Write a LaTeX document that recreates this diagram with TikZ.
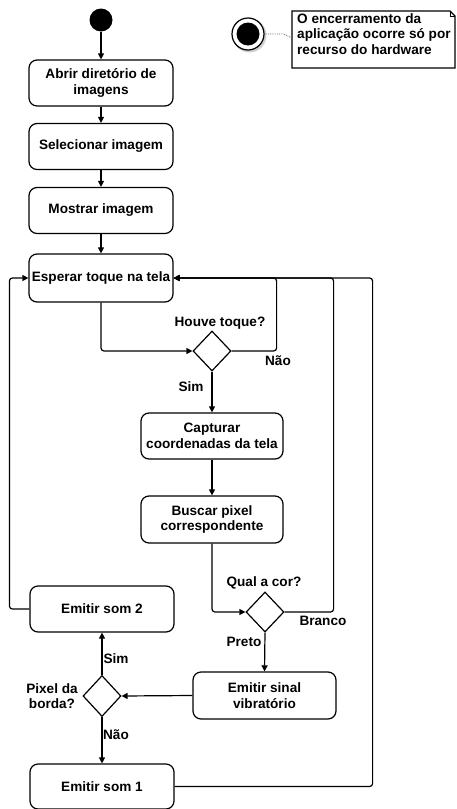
\documentclass[tikz,border=0pt]{standalone}
\usepackage{fontspec}
\setmainfont{Liberation Sans}
\usetikzlibrary{arrows.meta,shapes.geometric}
\begin{document}
\begin{tikzpicture}[x=1pt,y=-1pt,
  font=\fontsize{13.6}{15.5}\selectfont\bfseries,
  act/.style={draw,line width=1.2pt,rounded corners=8pt,minimum width=144pt,minimum height=46pt,align=center,inner sep=2pt},
  dec/.style={draw,line width=1.2pt,diamond,minimum width=38pt,minimum height=40pt,inner sep=0pt},
  flow/.style={line width=1.2pt,rounded corners=3pt,-{Triangle[length=6pt,width=6pt]}},
  lbl/.style={inner sep=0pt,align=center}]
\useasboundingbox (0,0) rectangle (456,809);

% start
\node[circle,fill=black,minimum size=23pt,inner sep=0pt] (start) at (101,20) {};

% final state with shadow
\fill[black!18] (249.5,35.5) circle (17pt);
\node[circle,draw,line width=1.2pt,fill=white,minimum size=32pt,inner sep=0pt] (endo) at (248,34) {};
\fill[black] (endo.center) circle (11.5pt);

% note
\draw[line width=1.2pt,fill=white] (292,11) -- (450,11) -- (455,16) -- (455,68) -- (292,68) -- cycle;
\draw[line width=0.8pt] (450,11) -- (450,16) -- (455,16);
\node[anchor=north west,align=left,inner sep=0pt] (note) at (297,13) {O encerramento da\\aplicação ocorre só por\\recurso do hardware};
\coordinate (notein) at (292,38);
\draw[black!60,densely dotted,line width=0.8pt] (endo.east) -- ++(19,0) -- (notein);

% activities
\node[act] (b1) at (101,83) {Abrir diretório de\\imagens};
\node[act] (b2) at (101,146.5) {Selecionar imagem};
\node[act] (b3) at (101,210.5) {Mostrar imagem};
\node[act,minimum height=48pt] (b4) at (101,278) {Esperar toque na tela};
\node[act,minimum width=142pt] (b5) at (212,436) {Capturar\\coordenadas da tela};
\node[act,minimum width=142pt,minimum height=47pt] (b6) at (212,519.5) {Buscar pixel\\correspondente};
\node[act,minimum width=143pt,minimum height=47pt] (b7) at (264.5,695.5) {Emitir sinal\\vibratório};
\node[act] (b8) at (102,609) {Emitir som 2};
\node[act,minimum height=45pt] (b9) at (102,786.5) {Emitir som 1};

% decisions
\node[dec] (d1) at (212,351) {};
\node[dec] (d2) at (265,612) {};
\node[dec,minimum height=41pt] (d3) at (102,696) {};

% labels
\node[lbl] (l1) at (220,323) {Houve toque?};
\node[lbl] (l2) at (278,361) {Não};
\node[lbl] (l3) at (191,387) {Sim};
\node[lbl] (l4) at (264,583) {Qual a cor?};
\node[lbl] (l5) at (323,621) {Branco};
\node[lbl] (l6) at (244,642) {Preto};
\node[lbl] (l7) at (116,659) {Sim};
\node[lbl] (l8) at (116,735) {Não};
\node[lbl] (l9) at (52,696) {Pixel da\\borda?};

% connectors
\draw[flow] (start) -- (b1);
\draw[flow] (b1) -- (b2);
\draw[flow] (b2) -- (b3);
\draw[flow] (b3) -- (b4);
\draw[flow] (b4.south) |- (d1.west);
\draw[flow] (d1.east) -- ++(45,0) |- (b4.east);
\draw[flow] (d1.south) -- (b5.north);
\draw[flow] (b5) -- (b6);
\draw[flow] (b6.south) |- (d2.west);
\draw[flow] (d2.east) -- ++(49,0) |- (b4.east);
\draw[flow] (d2.south) -- (b7.north);
\draw[flow] (b7.west) -- (d3.east);
\draw[flow] (d3.north) -- (b8.south);
\draw[flow] (d3.south) -- (b9.north);
\draw[flow] (b8.west) -- ++(-20,0) |- (b4.west);
\draw[flow] (b9.east) -- ++(198,0) |- (b4.east);
\end{tikzpicture}
\end{document}
